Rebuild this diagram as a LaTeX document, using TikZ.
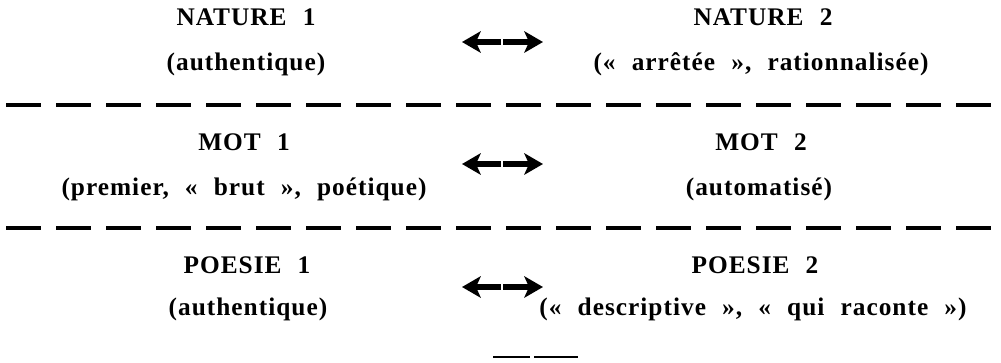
\documentclass[tikz,border=0pt]{standalone}
\usepackage{fontspec}
\setmainfont{Liberation Serif}[LetterSpace=4, WordSpace=2.2]
\usetikzlibrary{arrows.meta}
\begin{document}
\begin{tikzpicture}[x=0.75pt,y=-0.75pt,
  lbl/.style={font=\fontsize{19}{22}\selectfont\bfseries, inner sep=0pt, anchor=base},
  sepline/.style={line width=2.3pt, dash pattern=on 26.25pt off 11.25pt},
  dblarrow/.style={line width=3.8pt, -{Stealth[length=14pt,width=16pt,inset=3.5pt]}},
  rule/.style={line width=1.3pt}]
\useasboundingbox (0,0) rectangle (1001,362);
% row 1
\node[lbl] (n1) at (246,25) {NATURE 1};
\node[lbl] (n1s) at (246,70) {(authentique)};
\node[lbl] (n2) at (763,25) {NATURE 2};
\node[lbl] (n2s) at (761,70) {(«\ arrêtée\ »,\ rationnalisée)};
\coordinate (a1ml) at (501,42);
\coordinate (a1mr) at (503,42);
\coordinate (a1l) at (462,42);
\coordinate (a1r) at (543,42);
\draw[dblarrow] (a1ml) -- (a1l);
\draw[dblarrow] (a1mr) -- (a1r);
\coordinate (s1l) at (6,105);
\coordinate (s1r) at (1001,105);
\draw[sepline] (s1l) -- (s1r);
% row 2
\node[lbl] (m1) at (244,150) {MOT 1};
\node[lbl] (m1s) at (244,195) {(premier,\ «\ brut\ »,\ poétique)};
\node[lbl] (m2) at (761,150) {MOT 2};
\node[lbl] (m2s) at (759,195) {(automatisé)};
\coordinate (a2ml) at (501,164);
\coordinate (a2mr) at (503,164);
\coordinate (a2l) at (462,164);
\coordinate (a2r) at (543,164);
\draw[dblarrow] (a2ml) -- (a2l);
\draw[dblarrow] (a2mr) -- (a2r);
\coordinate (s2l) at (6,228);
\coordinate (s2r) at (1001,228);
\draw[sepline] (s2l) -- (s2r);
% row 3
\node[lbl] (p1) at (247,273) {POESIE 1};
\node[lbl] (p1s) at (248,315) {(authentique)};
\node[lbl] (p2) at (755,273) {POESIE 2};
\node[lbl] (p2s) at (753,315) {(«\ descriptive\ »,\ «\ qui\ raconte\ »)};
\coordinate (a3ml) at (501,287);
\coordinate (a3mr) at (503,287);
\coordinate (a3l) at (462,287);
\coordinate (a3r) at (543,287);
\draw[dblarrow] (a3ml) -- (a3l);
\draw[dblarrow] (a3mr) -- (a3r);
% bottom rule
\coordinate (b1) at (493,357);
\coordinate (b2) at (530,357);
\coordinate (b3) at (534,357);
\coordinate (b4) at (578,357);
\draw[rule] (b1) -- (b2);
\draw[rule] (b3) -- (b4);
\end{tikzpicture}
\end{document}
